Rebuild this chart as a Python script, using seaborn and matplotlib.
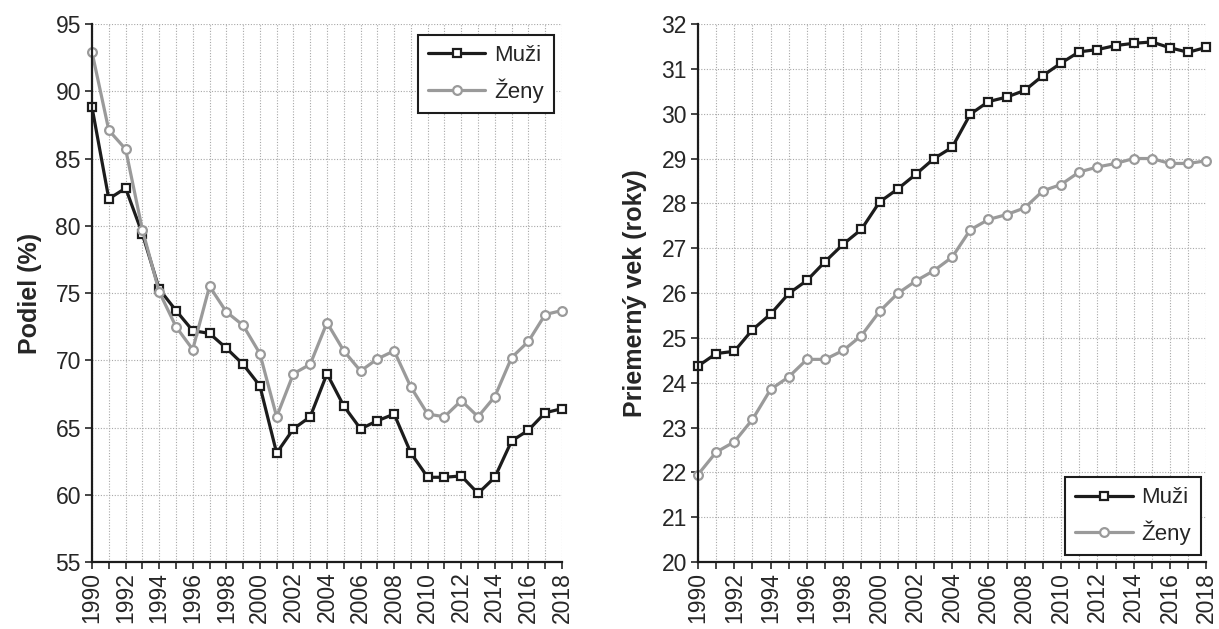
import matplotlib
matplotlib.use("Agg")
import matplotlib.pyplot as plt
import numpy as np
import pandas as pd
import seaborn as sns

years = list(range(1990, 2019))

# left panel: podiel (%)
share_men = [88.8, 82.0, 82.8, 79.4, 75.3, 73.7, 72.2, 72.0, 70.9, 69.7,
             68.1, 63.1, 64.9, 65.8, 69.0, 66.6, 64.9, 65.5, 66.0, 63.1,
             61.3, 61.3, 61.4, 60.1, 61.3, 64.0, 64.8, 66.1, 66.4]
share_women = [92.9, 87.1, 85.7, 79.7, 75.1, 72.5, 70.8, 75.5, 73.6, 72.6,
               70.5, 65.8, 69.0, 69.7, 72.8, 70.7, 69.2, 70.1, 70.7, 68.0,
               66.0, 65.8, 67.0, 65.8, 67.3, 70.2, 71.4, 73.4, 73.7]

# right panel: priemerny vek (roky)
age_men = [24.37, 24.65, 24.70, 25.18, 25.53, 25.99, 26.28, 26.70, 27.09, 27.42,
           28.03, 28.32, 28.65, 29.00, 29.25, 29.99, 30.27, 30.37, 30.52, 30.85,
           31.13, 31.38, 31.43, 31.52, 31.57, 31.60, 31.47, 31.37, 31.48]
age_women = [21.95, 22.45, 22.68, 23.18, 23.85, 24.13, 24.52, 24.52, 24.72, 25.05,
             25.59, 25.99, 26.27, 26.50, 26.80, 27.41, 27.64, 27.75, 27.90, 28.28,
             28.42, 28.70, 28.81, 28.89, 29.00, 29.00, 28.89, 28.89, 28.95]

groups = ["Muži", "Ženy"]
colors = {"Muži": "#1c1c1c", "Ženy": "#9a9a9a"}
markers = {"Muži": "s", "Ženy": "o"}


def long_form(men, women):
    return pd.DataFrame({
        "rok": years * 2,
        "hodnota": men + women,
        "pohlavie": ["Muži"] * len(years) + ["Ženy"] * len(years),
    })


sns.set_style("ticks")
plt.rcParams["font.family"] = ["Liberation Sans", "DejaVu Sans"]
plt.rcParams["font.size"] = 16


def draw_panel(ax, data, ylim, ystep, ylabel, legend_loc, legend_anchor):
    sns.lineplot(data=data, x="rok", y="hodnota", hue="pohlavie", style="pohlavie",
                 hue_order=groups, style_order=groups, palette=colors,
                 markers=markers, dashes=False, legend=False, ax=ax,
                 linewidth=2.3, markersize=6.3, markerfacecolor="white",
                 markeredgewidth=1.6)
    for line in ax.get_lines():
        line.set_markeredgecolor(line.get_color())
        line.set_clip_on(False)

    ax.set_xlim(1990, 2018)
    ax.set_ylim(*ylim)
    ax.set_xticks(years)
    ax.set_xticklabels([str(y) if y % 2 == 0 else "" for y in years],
                       rotation=90, fontsize=16.5)
    ax.set_yticks(np.arange(ylim[0], ylim[1] + ystep / 2, ystep))
    ax.tick_params(axis="y", labelsize=16.5, length=5, width=1.2, direction="out", pad=3)
    ax.tick_params(axis="x", length=5, width=1.2, direction="out", pad=2)
    ax.grid(True, which="major", color="#a8a8a8", linestyle=(0, (1, 1.5)), linewidth=0.8)
    ax.set_axisbelow(True)

    sns.despine(ax=ax, top=True, right=True)
    for side in ["left", "bottom"]:
        ax.spines[side].set_linewidth(1.6)
        ax.spines[side].set_color("#1c1c1c")

    ax.set_xlabel("")
    ax.set_ylabel(ylabel, fontsize=18, fontweight="bold", labelpad=10)

    leg = ax.legend(handles=ax.get_lines()[:2], labels=groups, loc=legend_loc,
                    bbox_to_anchor=legend_anchor, fontsize=16, frameon=True,
                    fancybox=False, handlelength=2.6, handletextpad=0.4,
                    borderpad=0.45, labelspacing=0.55, borderaxespad=0)
    leg.get_frame().set_edgecolor("#1c1c1c")
    leg.get_frame().set_linewidth(1.5)
    leg.get_frame().set_alpha(1)


fig = plt.figure(figsize=(12.19, 6.29), dpi=100)
ax1 = fig.add_axes([0.0755, 0.1065, 0.3855, 0.8553])
ax2 = fig.add_axes([0.5726, 0.1065, 0.4170, 0.8553])

draw_panel(ax1, long_form(share_men, share_women), (55, 95), 5, "Podiel (%)",
           "upper right", (0.983, 0.98))
draw_panel(ax2, long_form(age_men, age_women), (20, 32), 1, "Priemerný vek (roky)",
           "lower right", (0.99, 0.013))

fig.savefig("out.png", dpi=100)
